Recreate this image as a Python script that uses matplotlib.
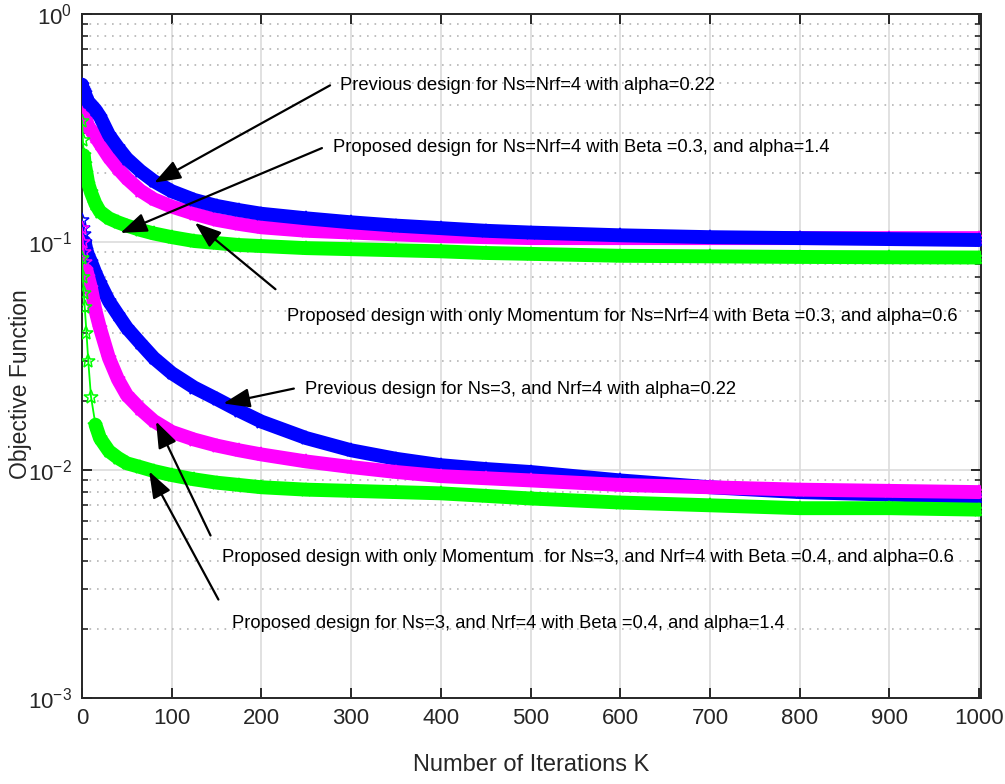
import matplotlib
matplotlib.use("Agg")
import matplotlib.pyplot as plt
import numpy as np
from matplotlib.ticker import LogLocator, NullFormatter, FixedLocator

# Data (iteration -> objective value)
iters = [0, 1, 2, 3, 5, 7, 10, 15, 20, 30, 40, 50, 65, 80, 100, 125, 150, 175,
         200, 250, 300, 350, 400, 450, 500, 600, 700, 800, 900, 1000]

prev_44 = [0.49, 0.47, 0.46, 0.45, 0.43, 0.41, 0.40, 0.38, 0.355, 0.295, 0.26, 0.232,
           0.205, 0.185, 0.167, 0.153, 0.144, 0.138, 0.133, 0.127, 0.122, 0.118,
           0.115, 0.112, 0.110, 0.107, 0.105, 0.104, 0.103, 0.102]
mom_44 = [0.43, 0.40, 0.38, 0.36, 0.34, 0.32, 0.31, 0.29, 0.27, 0.235, 0.21, 0.19,
          0.168, 0.154, 0.143, 0.133, 0.125, 0.120, 0.116, 0.112, 0.110, 0.108,
          0.106, 0.105, 0.104, 0.104, 0.104, 0.104, 0.104, 0.104]
prop_44 = [0.34, 0.28, 0.24, 0.22, 0.20, 0.18, 0.165, 0.147, 0.136, 0.127, 0.122,
           0.118, 0.113, 0.109, 0.105, 0.101, 0.099, 0.097, 0.096, 0.094, 0.093,
           0.092, 0.091, 0.0895, 0.0887, 0.087, 0.0865, 0.086, 0.0857, 0.0855]
prev_34 = [0.125, 0.115, 0.108, 0.100, 0.092, 0.087, 0.082, 0.073, 0.066, 0.055,
           0.048, 0.042, 0.036, 0.031, 0.0266, 0.023, 0.0205, 0.0182, 0.0163,
           0.0138, 0.0122, 0.0112, 0.0105, 0.0101, 0.0098, 0.0090, 0.0084,
           0.0080, 0.0078, 0.0076]
mom_34 = [0.115, 0.100, 0.090, 0.082, 0.075, 0.070, 0.063, 0.050, 0.042, 0.031,
          0.025, 0.0213, 0.0185, 0.0164, 0.0147, 0.0136, 0.0128, 0.0122, 0.0117,
          0.0109, 0.0103, 0.0098, 0.0094, 0.0092, 0.0090, 0.0086, 0.0084, 0.0082,
          0.0081, 0.0080]
prop_34 = [0.085, 0.070, 0.060, 0.052, 0.040, 0.030, 0.021, 0.0158, 0.0138, 0.0121,
           0.0113, 0.0107, 0.0103, 0.0099, 0.0095, 0.0091, 0.0088, 0.0086, 0.0084,
           0.0082, 0.0081, 0.0080, 0.0079, 0.0077, 0.0075, 0.0072, 0.0070, 0.0068,
           0.0068, 0.0067]

labels = [
    "Previous design for Ns=Nrf=4 with alpha=0.22",
    "Proposed design for Ns=Nrf=4 with Beta =0.3, and alpha=1.4",
    "Proposed design with only Momentum for Ns=Nrf=4 with Beta =0.3, and alpha=0.6",
    "Previous design for Ns=3, and Nrf=4 with alpha=0.22",
    "Proposed design with only Momentum  for Ns=3, and Nrf=4 with Beta =0.4, and alpha=0.6",
    "Proposed design for Ns=3, and Nrf=4 with Beta =0.4, and alpha=1.4",
]

plt.rcParams['font.family'] = ['Liberation Sans', 'DejaVu Sans']
plt.rcParams['mathtext.fontset'] = 'custom'
plt.rcParams['mathtext.rm'] = 'Liberation Sans'
plt.rcParams['mathtext.default'] = 'regular'

W, H = 1005, 784
fig = plt.figure(figsize=(W / 100, H / 100), dpi=100)
ax = fig.add_axes([82 / W, 1 - 698 / H, (981 - 82) / W, (698 - 14) / H])

# (values, colour, index where thick band starts), drawn in this order
series = [
    (mom_44, '#ff00ff', 0),
    (prev_44, '#0000ff', 0),
    (prop_44, '#00ff00', 2),
    (prev_34, '#0000ff', 3),
    (mom_34, '#ff00ff', 4),
    (prop_34, '#00ff00', 7),
]

for vals, col, start in series:
    ax.plot(iters, vals, color=col, lw=1.3, marker='*', ms=10, mfc='none',
            mew=1.1, zorder=3)
    ax.plot(iters[start:], vals[start:], color=col, lw=10,
            solid_capstyle='round', solid_joinstyle='round', zorder=3)

ax.set_yscale('log')
ax.set_xlim(0, 1002)
ax.set_ylim(1e-3, 1e0)
ax.xaxis.set_major_locator(FixedLocator(np.arange(0, 1001, 100)))
ax.yaxis.set_major_locator(LogLocator(base=10, numticks=10))
ax.yaxis.set_minor_locator(LogLocator(base=10, subs=np.arange(2, 10), numticks=20))
ax.yaxis.set_minor_formatter(NullFormatter())

ax.grid(True, which='major', color='#dcdcdc', lw=1.2, ls='-', zorder=0)
ax.grid(True, which='minor', axis='y', color='#b4b4b4', lw=1.2,
        ls=(0, (1, 3.5)), zorder=0)
ax.set_axisbelow(True)

for sp in ax.spines.values():
    sp.set_color('#262626')
    sp.set_linewidth(1.4)
ax.tick_params(which='both', direction='in', top=True, right=True,
               color='#262626', labelsize=16, labelcolor='#262626')
ax.tick_params(which='major', length=7, width=1.4, pad=7)
ax.tick_params(which='minor', length=4, width=1.2)

ax.set_xlabel("Number of Iterations K", fontsize=17, color='#262626')
ax.xaxis.set_label_coords(0.5, -0.082)
ax.set_ylabel("Objective Function", fontsize=16.5, color='#262626')
ax.yaxis.set_label_coords(-0.056, (698 - 384) / 684)


def px_to_data(px, py):
    x = (px - 82) / 0.899
    y = 10 ** (-(py - 14) / 228.0)
    return x, y


# (text left px, text centre py, arrow tail px, tail py, tip px, tip py)
notes = [
    (340, 85, 333, 84, 152, 184),
    (333, 148, 325, 147, 118, 234),
    (287, 316, 278, 291, 193, 221),
    (305, 390, 297, 388, 221, 404),
    (222, 557, 212, 538, 155, 419),
    (232, 623, 220, 602, 148, 469),
]

for text, (tx, ty, ax0, ay0, bx, by) in zip(labels, notes):
    fig.text(tx / W, 1 - ty / H, text, fontsize=13.2, color='black',
             ha='left', va='center')
    ax.annotate('', xy=px_to_data(bx, by), xytext=px_to_data(ax0, ay0),
                arrowprops=dict(arrowstyle='-|>,head_length=0.9,head_width=0.33',
                                color='black', lw=1.6, mutation_scale=18),
                zorder=5)

fig.savefig("out.png", dpi=100)
